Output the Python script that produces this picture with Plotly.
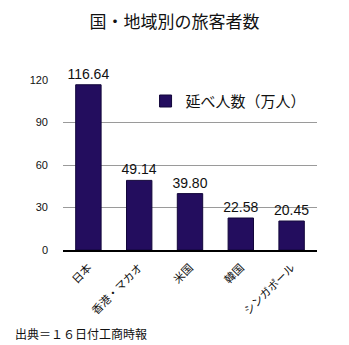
import plotly.graph_objects as go

categories = ["日本", "香港・マカオ", "米国", "韓国", "シンガポール"]
values = [116.64, 49.14, 39.80, 22.58, 20.45]
series_name = "延べ人数（万人）"
y_ticks = [0, 30, 60, 90, 120]
title = "国・地域別の旅客者数"
source = "出典＝１６日付工商時報"

FONT = "Liberation Sans, Arial, Noto Sans CJK JP, sans-serif"
BAR = "#230d5e"

fig = go.Figure()
fig.add_trace(go.Bar(
    x=categories, y=values, name=series_name,
    marker=dict(color=BAR, line=dict(color="#12063a", width=1)),
    width=0.5,
    text=values, texttemplate="%{y:.2f}", textposition="outside",
    textfont=dict(size=14, color="#111", family=FONT),
    constraintext="none",
    cliponaxis=False, showlegend=True,
))

fig.update_layout(
    width=349, height=345,
    margin=dict(l=63, r=32, t=80, b=95),
    paper_bgcolor="white", plot_bgcolor="white",
    font=dict(family=FONT, color="#111"),
    title=dict(text=title, x=0.5, xanchor="center", y=0.935, yanchor="middle",
               font=dict(size=17, family="Noto Sans CJK JP", color="#111")),
    showlegend=True,
    legend=dict(x=0.325, y=0.875, xanchor="left", yanchor="middle",
                bgcolor="rgba(0,0,0,0)", font=dict(size=15, family="Noto Sans CJK JP"),
                itemwidth=30),
    bargap=0.5,
)
fig.update_yaxes(range=[0, 120], tickvals=y_ticks, showgrid=True, gridcolor="#9a9a9a",
                 gridwidth=1, zeroline=False, showline=False,
                 tickfont=dict(size=11, family=FONT), ticks="", ticklabelstandoff=14)
fig.update_xaxes(showline=True, linecolor="#000", linewidth=2, tickangle=-45,
                 tickfont=dict(size=11, family="Noto Sans CJK JP"), ticks="",
                 ticklabelstandoff=5)
fig.add_annotation(text=source, xref="paper", yref="paper", x=-50/254, y=-83/170,
                   xanchor="left", yanchor="middle", showarrow=False,
                   font=dict(size=12, family="Noto Sans CJK JP", color="#111"))
fig.write_html("out.html")
